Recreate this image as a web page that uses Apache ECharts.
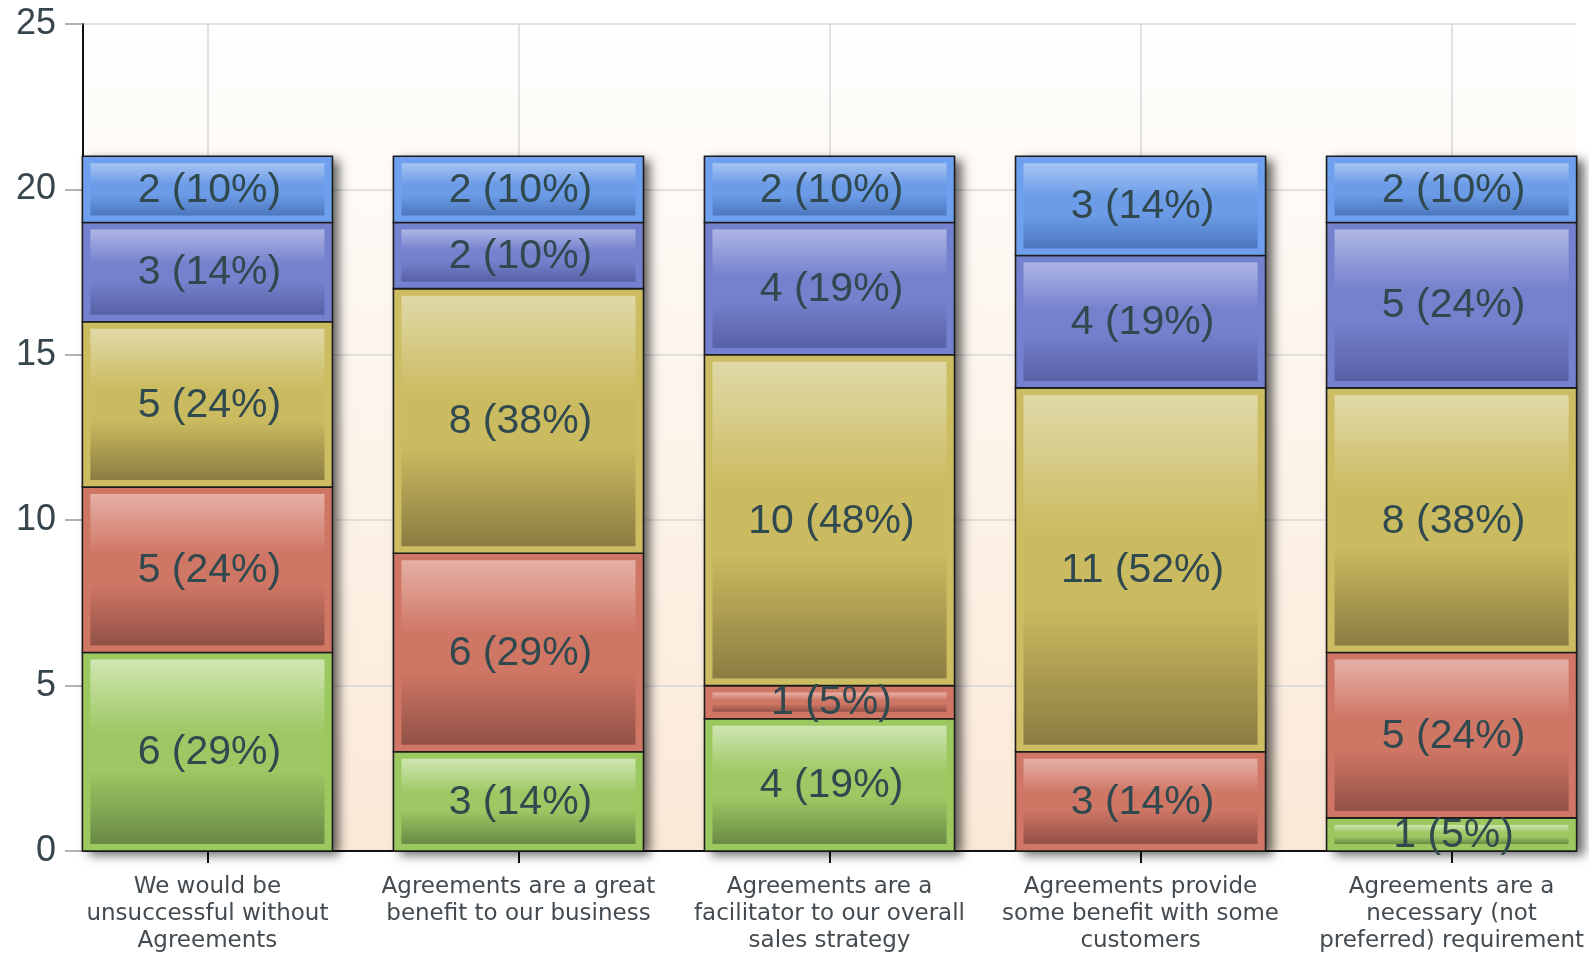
<!DOCTYPE html>
<html><head><meta charset="utf-8">
<script src="https://cdn.jsdelivr.net/npm/echarts@6/dist/echarts.min.js"></script>
<style>html,body{margin:0;padding:0;background:#fff}#c{width:1589px;height:955px}</style>
</head><body><div id="c"></div>
<script>
const categories = ['We would be\nunsuccessful without\nAgreements', 'Agreements are a great\nbenefit to our business', 'Agreements are a\nfacilitator to our overall\nsales strategy', 'Agreements provide\nsome benefit with some\ncustomers', 'Agreements are a\nnecessary (not\npreferred) requirement'];
const green = [6, 3, 4, 0, 1];
const red = [5, 6, 1, 3, 5];
const yellow = [5, 8, 10, 11, 8];
const purple = [3, 2, 4, 4, 5];
const blue = [2, 2, 2, 3, 2];
const yTickLabels = [0, 5, 10, 15, 20, 25];

const layers = [
  { name: 'green', data: green, rim: '#9cc860', light: '#cfe6b2', mid: '#9ec863', dark: '#698a45' },
  { name: 'red', data: red, rim: '#d07664', light: '#e5b0a6', mid: '#cf7664', dark: '#925146' },
  { name: 'yellow', data: yellow, rim: '#cdbd62', light: '#e0d9a8', mid: '#cbbb60', dark: '#8b7d42' },
  { name: 'purple', data: purple, rim: '#7381ce', light: '#aeb6e4', mid: '#7581cd', dark: '#5861a6' },
  { name: 'blue', data: blue, rim: '#6fa0ee', light: '#a6c4f3', mid: '#6c9ce8', dark: '#4c77be' }
];

const totals = categories.map((c, i) => layers.reduce((s, l) => s + l.data[i], 0));
const BAR_UNITS = 0.804;
const RIM_X = 8, RIM_Y = 7;
const LABEL_FONT = '41px "Liberation Sans", Arial, sans-serif';

const series = [];
// shadow layer under each full stack
series.push({
  type: 'custom',
  name: 'shadow',
  z: 1,
  silent: true,
  data: categories.map((c, i) => [i, totals[i]]),
  renderItem: function (params, api) {
    const i = api.value(0), t = api.value(1);
    const half = api.size([BAR_UNITS, 0])[0] / 2;
    const p0 = api.coord([i, 0]), p1 = api.coord([i, t]);
    return {
      type: 'rect',
      shape: { x: p0[0] - half, y: p1[1], width: half * 2, height: p0[1] - p1[1] },
      style: { fill: '#888', shadowBlur: 10, shadowOffsetX: 7, shadowOffsetY: 4, shadowColor: 'rgba(0,0,0,0.6)' }
    };
  }
});

const bases = categories.map(() => 0);
layers.forEach(layer => {
  const d = layer.data.map((v, i) => {
    const item = [i, bases[i], v, totals[i]];
    bases[i] += v;
    return item;
  });
  series.push({
    type: 'custom',
    name: layer.name,
    z: 2,
    data: d,
    renderItem: function (params, api) {
      const i = api.value(0), b = api.value(1), v = api.value(2), t = api.value(3);
      if (!v) return null;
      const half = api.size([BAR_UNITS, 0])[0] / 2;
      const p0 = api.coord([i, b]), p1 = api.coord([i, b + v]);
      const x = p0[0] - half, y = p1[1], w = half * 2, h = p0[1] - p1[1];
      const pct = Math.round(v / t * 100);
      return {
        type: 'group',
        children: [
          {
            type: 'rect',
            shape: { x: x, y: y, width: w, height: h },
            style: { fill: layer.rim, stroke: '#1c1c1c', lineWidth: 1.6 }
          },
          {
            type: 'rect',
            shape: { x: x + RIM_X, y: y + RIM_Y, width: w - 2 * RIM_X, height: Math.max(h - 2 * RIM_Y, 1) },
            style: {
              fill: {
                type: 'linear', x: 0, y: 0, x2: 0, y2: 1,
                colorStops: [
                  { offset: 0, color: layer.light },
                  { offset: 0.4, color: layer.mid },
                  { offset: 0.6, color: layer.mid },
                  { offset: 1, color: layer.dark }
                ]
              }
            }
          },
          {
            type: 'text',
            z2: 50,
            style: {
              text: v + ' (' + pct + '%)',
              x: x + w / 2 + 2, y: y + h / 2 + 1,
              align: 'center', verticalAlign: 'middle',
              font: LABEL_FONT,
              fill: '#30494f'
            }
          }
        ]
      };
    }
  });
});

const chart = echarts.init(document.getElementById('c'));
chart.setOption({
  animation: false,
  backgroundColor: '#ffffff',
  grid: {
    left: 83, right: 13, top: 24, bottom: 103,
    show: true, borderWidth: 0,
    backgroundColor: {
      type: 'linear', x: 0, y: 0, x2: 0, y2: 1,
      colorStops: [{ offset: 0, color: '#fefefd' }, { offset: 1, color: '#fbe9d7' }]
    }
  },
  xAxis: {
    type: 'value',
    min: -0.4, max: 4.4,
    axisLine: { show: true, onZero: false, lineStyle: { color: '#111', width: 2 } },
    axisTick: { show: true, length: 12, customValues: categories.map((c, i) => i), lineStyle: { color: '#111', width: 2 } },
    axisLabel: {
      customValues: categories.map((c, i) => i),
      formatter: v => categories[Math.round(v)] || '',
      fontFamily: '"DejaVu Sans", sans-serif', fontSize: 23, lineHeight: 27,
      color: '#434b50', margin: 23
    },
    splitLine: { show: true, lineStyle: { color: '#d8d8d8', width: 1.5 } }
  },
  yAxis: {
    type: 'value',
    min: yTickLabels[0], max: yTickLabels[yTickLabels.length - 1],
    interval: yTickLabels[1] - yTickLabels[0],
    axisLine: { show: true, onZero: false, lineStyle: { color: '#111', width: 2 } },
    axisTick: { show: true, length: 18, lineStyle: { color: '#9a9a9a', width: 1.5 } },
    axisLabel: {
      fontFamily: '"Liberation Sans", Arial, sans-serif', fontSize: 36,
      color: '#37464d', margin: 27
    },
    splitLine: { show: true, lineStyle: { color: '#d8d8d8', width: 1.5 } }
  },
  series: series
});
</script>
</body></html>
